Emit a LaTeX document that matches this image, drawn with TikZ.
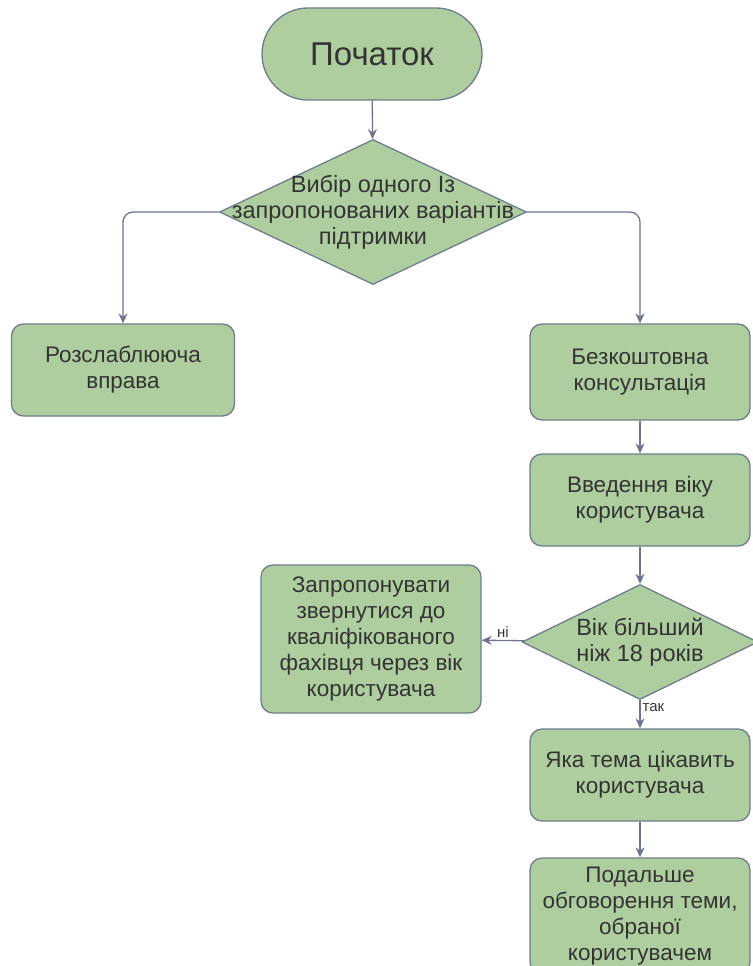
\documentclass[tikz,border=0pt]{standalone}
\usepackage{fontspec}
\setmainfont{Liberation Sans}
\usetikzlibrary{positioning, arrows.meta, shapes.geometric, calc}

\definecolor{boxfill}{HTML}{AFCE9F}
\definecolor{boxline}{HTML}{6F7C8C}
\definecolor{flowline}{HTML}{6E7390}
\definecolor{textgray}{HTML}{333333}

\tikzset{
    terminal/.style={draw=boxline, fill=boxfill, line width=1.3pt, rounded corners=46pt,
        minimum width=220pt, minimum height=92pt, text=textgray,
        font=\fontsize{33}{38}\selectfont},
    process/.style={draw=boxline, fill=boxfill, line width=1.3pt, rounded corners=12pt,
        minimum width=220pt, minimum height=92pt, text=textgray, align=center,
        font=\fontsize{22.5}{26}\selectfont},
    decision/.style={diamond, draw=boxline, fill=boxfill, line width=1.3pt, inner sep=0pt},
    dtext/.style={text=textgray, align=center, font=\fontsize{23.5}{26}\selectfont},
    flow/.style={draw=flowline, line width=1.3pt, -{Stealth[length=10pt, width=9pt]}},
    branch/.style={text=textgray, font=\fontsize{15}{17}\selectfont, inner sep=2pt}
}

\begin{document}
\begin{tikzpicture}[x=1pt, y=-1pt]
    \useasboundingbox (0,0) rectangle (752,966);

    \node (start) [terminal] at (372,54) {Початок};
    \node (choice) [decision, minimum width=307pt, minimum height=145pt,
        label={[dtext]center:Вибір одного Із\\запропонованих варіантів\\підтримки}] at (373,212) {};

    \node (relax) [process, minimum width=223pt] at (123,370) {Розслаблююча\\вправа};
    \node (consult) [process, minimum height=96pt] at (640,372) {Безкоштовна\\консультація};
    \node (age) [process] at (640,500) {Введення віку\\користувача};
    \node (check) [decision, minimum width=236pt, minimum height=115pt,
        label={[dtext]center:Вік більший\\ніж 18 років}] at (640,642) {};
    \node (refer) [process, minimum height=148pt] at (371,639)
        {Запропонувати\\звернутися до\\кваліфікованого\\фахівця через вік\\користувача};
    \node (topic) [process] at (640,775) {Яка тема цікавить\\користувача};
    \node (discuss) [process, minimum height=116pt] at (640,916)
        {Подальше\\обговорення теми,\\обраної\\користувачем};

    \draw[flow] (start) -- (choice);
    \draw[flow, rounded corners=10pt] (choice.west) -| (relax);
    \draw[flow, rounded corners=10pt] (choice.east) -| (consult);
    \draw[flow] (consult) -- (age);
    \draw[flow] (age) -- (check);
    \draw[flow] (check) -- node[branch, above] {ні} (refer);
    \draw[flow] (check) -- node[branch, right, pos=0.25] {так} (topic);
    \draw[flow] (topic) -- (discuss);
\end{tikzpicture}
\end{document}
